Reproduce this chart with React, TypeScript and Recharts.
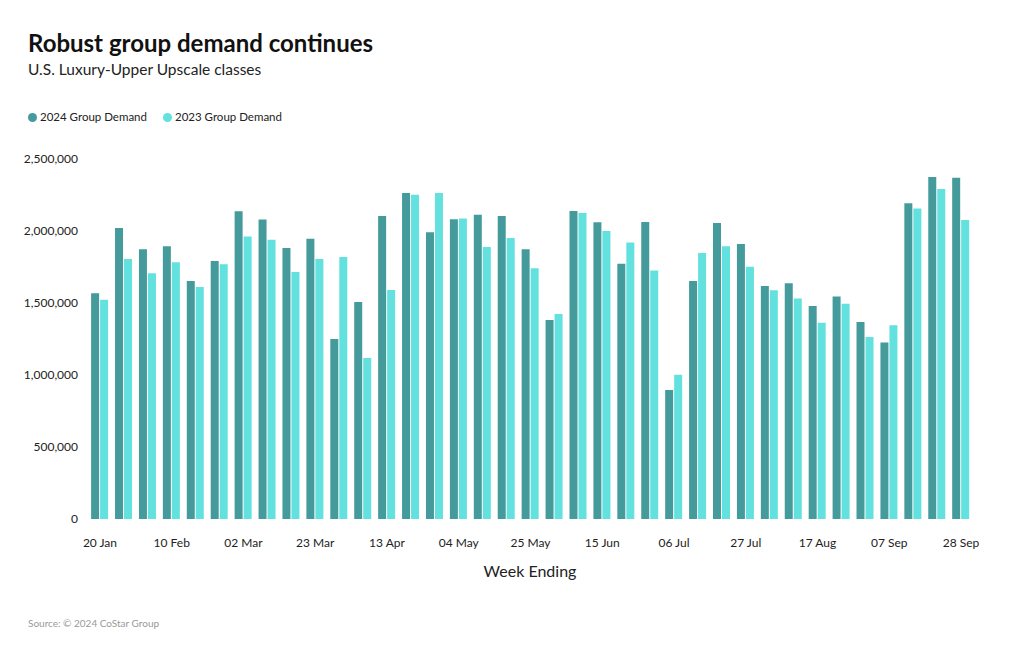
import React from 'react';
import { BarChart, Bar, XAxis, YAxis } from 'recharts';

const weeks = [
  '20 Jan', '27 Jan', '03 Feb', '10 Feb', '17 Feb', '24 Feb', '02 Mar', '09 Mar', '16 Mar', '23 Mar',
  '30 Mar', '06 Apr', '13 Apr', '20 Apr', '27 Apr', '04 May', '11 May', '18 May', '25 May', '01 Jun',
  '08 Jun', '15 Jun', '22 Jun', '29 Jun', '06 Jul', '13 Jul', '20 Jul', '27 Jul', '03 Aug', '10 Aug',
  '17 Aug', '24 Aug', '31 Aug', '07 Sep', '14 Sep', '21 Sep', '28 Sep',
];

const demand2024 = [
  1568000, 2021000, 1873000, 1894000, 1653000, 1792000, 2137000, 2079000, 1882000, 1947000,
  1250000, 1507000, 2104000, 2264000, 1991000, 2081000, 2113000, 2104000, 1873000, 1382000,
  2139000, 2060000, 1773000, 2063000, 896000, 1653000, 2056000, 1910000, 1618000, 1637000,
  1479000, 1546000, 1368000, 1225000, 2192000, 2375000, 2370000,
];

const demand2023 = [
  1523000, 1806000, 1706000, 1783000, 1611000, 1769000, 1961000, 1940000, 1715000, 1806000,
  1819000, 1118000, 1590000, 2252000, 2264000, 2086000, 1889000, 1951000, 1741000, 1424000,
  2125000, 2000000, 1921000, 1725000, 1002000, 1847000, 1894000, 1752000, 1588000, 1532000,
  1363000, 1495000, 1264000, 1345000, 2157000, 2292000, 2076000,
];

const yTicks = [0, 500000, 1000000, 1500000, 2000000, 2500000];

const series = [
  { key: 'd2024', name: '2024 Group Demand', color: '#459b9b' },
  { key: 'd2023', name: '2023 Group Demand', color: '#62e1df' },
];

const data = weeks.map((week, i) => ({
  week,
  d2024: demand2024[i],
  d2023: demand2023[i],
}));

const font = 'Lato, "Noto Sans", sans-serif';

const App: React.FC = () => {
  return (
    <div style={{ position: 'absolute', left: 0, top: 0, width: 1020, height: 650, background: '#fff', fontFamily: font }}>
      <div style={{ position: 'absolute', left: 28, top: 28, fontSize: 24, fontWeight: 700, color: '#111', lineHeight: '30px' }}>
        Robust group demand continues
      </div>
      <div style={{ position: 'absolute', left: 28, top: 59, fontSize: 15.5, color: '#222', lineHeight: '20px' }}>
        U.S. Luxury-Upper Upscale classes
      </div>
      {/* legend */}
      <div style={{ position: 'absolute', left: 28, top: 109, display: 'flex', fontSize: 11.5, color: '#222', lineHeight: '16px' }}>
        {series.map((s) => (
          <div key={s.key} style={{ display: 'flex', alignItems: 'center', marginRight: 16 }}>
            <span style={{ width: 9, height: 9, borderRadius: '50%', background: s.color, marginRight: 3, display: 'inline-block' }} />
            {s.name}
          </div>
        ))}
      </div>
      <BarChart
        width={1020}
        height={650}
        data={data}
        margin={{ top: 159, right: 47, bottom: 101, left: 0 }}
        barCategoryGap="13%"
        barGap={1}
      >
        <XAxis
          dataKey="week"
          interval={2}
          axisLine={false}
          tickLine={false}
          tickMargin={13}
          height={30}
          tick={{ fontSize: 12, fill: '#222', fontFamily: font }}
        />
        <YAxis
          width={88}
          domain={[0, 2500000]}
          ticks={yTicks}
          axisLine={false}
          tickLine={false}
          tickSize={8}
          tickFormatter={(v: number) => v.toLocaleString('en-US')}
          tick={{ fontSize: 12, fill: '#222', fontFamily: font }}
        />
        {series.map((s) => (
          <Bar key={s.key} dataKey={s.key} name={s.name} fill={s.color} isAnimationActive={false} />
        ))}
      </BarChart>
      <div style={{ position: 'absolute', left: 0, width: 1020, top: 561, textAlign: 'center', fontSize: 16, color: '#222', paddingLeft: 40, boxSizing: 'border-box' }}>
        Week Ending
      </div>
      <div style={{ position: 'absolute', left: 28, top: 617, fontSize: 10, color: '#999' }}>
        Source: © 2024 CoStar Group
      </div>
    </div>
  );
};

export default App;
